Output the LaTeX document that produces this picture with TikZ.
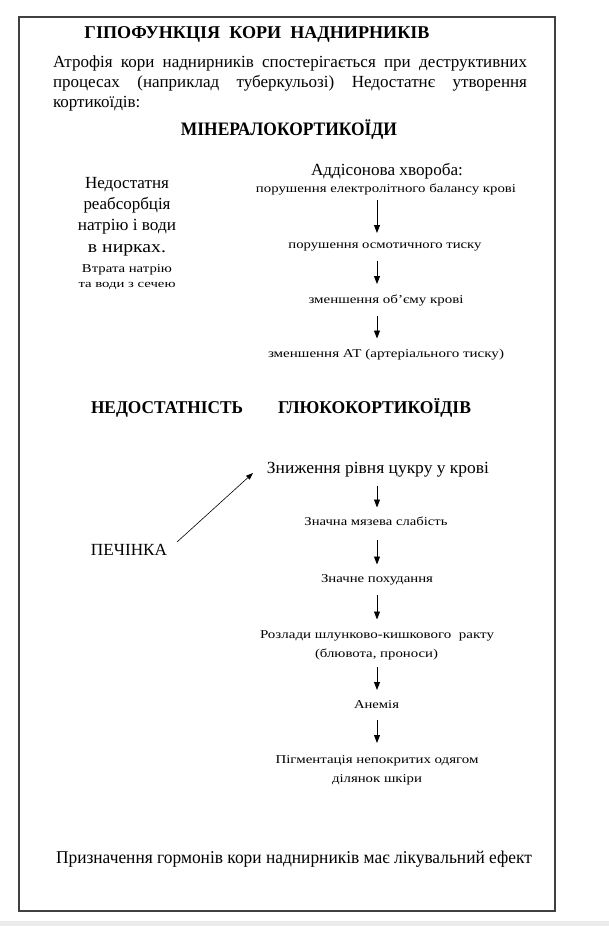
\documentclass[tikz,border=0pt]{standalone}
\usepackage{fontspec}
\setmainfont{Liberation Serif}
\usepackage{graphicx}
\usetikzlibrary{arrows.meta}
\newcommand\tx[2]{\resizebox{#1pt}{\height}{#2}}
\begin{document}
\begin{tikzpicture}[x=1pt,y=-1pt,
  every node/.style={inner sep=0pt, outer sep=0pt, anchor=base},
  big/.style={font=\fontsize{17}{20}\selectfont, text height=12pt, text depth=3.7pt},
  para/.style={font=\fontsize{17}{20}\selectfont},
  small/.style={font=\fontsize{12}{14}\selectfont, text height=8.5pt, text depth=2.5pt},
  head/.style={font=\fontsize{18}{21}\selectfont\bfseries},
  arr/.style={-{Triangle[width=6pt,length=8pt]}, line width=0.9pt},
  thinarr/.style={-{Triangle[width=5pt,length=7pt]}, line width=0.6pt},
]
\useasboundingbox (0,0) rectangle (609,926);
\fill[white] (0,0) rectangle (609,926);
\fill[black!8] (0,921) rectangle (609,926);
\draw[line width=1.4pt, draw=black!75] (19,17) rectangle (555,911);
\coordinate (ax) at (377,0);

% header
\node[head] (title) at (257,38) {\tx{345}{ГІПОФУНКЦІЯ\ \ КОРИ\ \ НАДНИРНИКІВ}};
\node[para, anchor=base west] (p1) at (53,67) {\makebox[474pt][s]{Атрофія кори наднирників спостерігається при деструктивних}};
\node[para, anchor=base west] (p2) at (53,87) {\makebox[474pt][s]{процесах (наприклад туберкульозі) Недостатнє утворення}};
\node[para, anchor=base west] (p3) at (53,107) {кортикоїдів:};
\node[head, font=\fontsize{19}{22}\selectfont\bfseries] (min) at (289,135) {\tx{216}{МІНЕРАЛОКОРТИКОЇДИ}};

% left column
\node[big] (l1) at (127,188) {\tx{84}{Недостатня}};
\node[big] (l2) at (127,209) {\tx{87}{реабсорбція}};
\node[big] (l3) at (127,230) {\tx{98}{натрію і води}};
\node[big] (l4) at (127,252) {\tx{78}{в нирках.}};
\node[small] (l5) at (127,272) {\tx{90}{Втрата натрію}};
\node[small, font=\fontsize{11}{13}\selectfont] (l6) at (127,287) {\tx{97}{та води з сечею}};

% Addison chain
\node[big] (e0) at (387,175) {\tx{152}{Аддісонова хвороба:}};
\node[small] (e1) at (386,192) {\tx{260}{порушення електролітного балансу крові}};
\node[small] (e2) at (385,248) {\tx{193}{порушення осмотичного тиску}};
\node[small] (e3) at (386,303) {\tx{155}{зменшення об’єму крові}};
\node[small] (e4) at (386,357) {\tx{236}{зменшення АТ (артеріального тиску)}};
\draw[arr, shorten <=5.5pt, shorten >=6.5pt] (e1.south -| ax) -- (e2.north -| ax);
\draw[arr, shorten <=10.5pt, shorten >=10.5pt] (e2.south -| ax) -- (e3.north -| ax);
\draw[arr, shorten <=10.5pt, shorten >=10pt] (e3.south -| ax) -- (e4.north -| ax);

% glucocorticoids
\node[head, anchor=base west] (h1) at (91,413) {\tx{152}{НЕДОСТАТНІСТЬ}};
\node[head, anchor=base west] (h2) at (278,413) {\tx{193}{ГЛЮКОКОРТИКОЇДІВ}};

\node[big] (pech) at (129,555) {\tx{76}{ПЕЧІНКА}};
\node[big] (g0) at (378,473) {\tx{222}{Зниження рівня цукру у крові}};
\node[small] (g1) at (376,525) {\tx{143}{Значна мязева слабість}};
\node[small] (g2) at (377,582) {\tx{112}{Значне похудання}};
\node[small] (g3) at (377,638) {\tx{234}{Розлади шлунково-кишкового\ \ ракту}};
\node[small] (g4) at (376.5,657) {\tx{123}{(блювота, проноси)}};
\node[small] (g5) at (376.5,708) {\tx{45}{Анемія}};
\node[small] (g6) at (377,763) {\tx{203}{Пігментація непокритих одягом}};
\node[small] (g7) at (377,782) {\tx{90}{ділянок шкіри}};

\draw[thinarr] ([xshift=10pt,yshift=8.85pt]pech.east) -- ([xshift=-14pt,yshift=-4.15pt]g0.west);
\draw[arr, shorten <=9pt, shorten >=9pt] (g0.south -| ax) -- (g1.north -| ax);
\draw[arr, shorten <=12pt, shorten >=9pt] (g1.south -| ax) -- (g2.north -| ax);
\draw[arr, shorten <=10pt, shorten >=10pt] (g2.south -| ax) -- (g3.north -| ax);
\draw[arr, shorten <=7.5pt, shorten >=9.5pt] (g4.south -| ax) -- (g5.north -| ax);
\draw[arr, shorten <=9.5pt, shorten >=11.5pt] (g5.south -| ax) -- (g6.north -| ax);

\node[big, font=\fontsize{18}{21}\selectfont] (fin) at (294,863) {\tx{476}{Призначення гормонів кори наднирників має лікувальний ефект}};
\end{tikzpicture}
\end{document}
